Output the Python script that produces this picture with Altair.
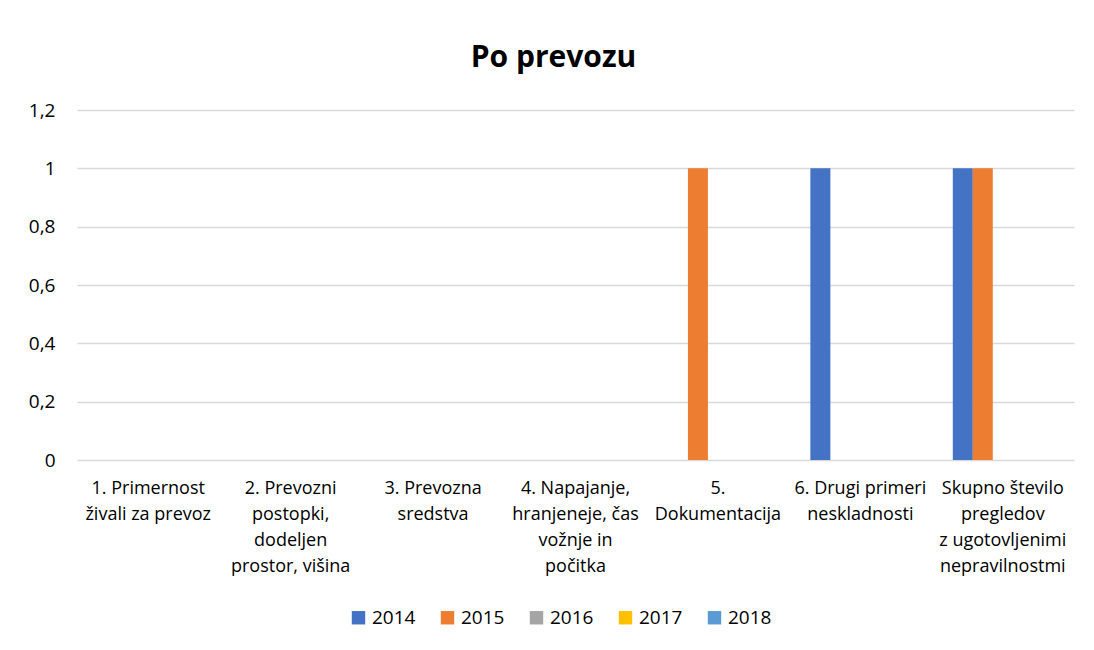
import altair as alt
import pandas as pd

categories = [
    "1. Primernost\nživali za prevoz",
    "2. Prevozni\npostopki,\ndodeljen\nprostor, višina",
    "3. Prevozna\nsredstva",
    "4. Napajanje,\nhranjeneje, čas\nvožnje in\npočitka",
    "5.\nDokumentacija",
    "6. Drugi primeri\nneskladnosti",
    "Skupno število\npregledov\nz ugotovljenimi\nnepravilnostmi",
]
years = ["2014", "2015", "2016", "2017", "2018"]
v2014 = [0, 0, 0, 0, 0, 1, 1]
v2015 = [0, 0, 0, 0, 1, 0, 1]
v2016 = [0, 0, 0, 0, 0, 0, 0]
v2017 = [0, 0, 0, 0, 0, 0, 0]
v2018 = [0, 0, 0, 0, 0, 0, 0]
colors = ["#4472C4", "#ED7D31", "#A5A5A5", "#FFC000", "#5B9BD5"]
y_ticks = [0, 0.2, 0.4, 0.6, 0.8, 1.0, 1.2]

series = [v2014, v2015, v2016, v2017, v2018]
rows = []
for yr, vals in zip(years, series):
    for c, v in zip(categories, vals):
        rows.append({"cat": c, "year": yr, "value": v})
df = pd.DataFrame(rows)

FONT = "Open Sans"

chart = alt.Chart(df).mark_bar().encode(
    x=alt.X(
        "cat:N",
        sort=categories,
        title=None,
        scale=alt.Scale(paddingInner=0.298, paddingOuter=0.149),
        axis=alt.Axis(
            labelAngle=0,
            labelExpr="split(datum.label, '\\n')",
            labelFontSize=18,
            labelFont=FONT,
            labelColor="#000000",
            labelLineHeight=26,
            labelPadding=19,
            labelBaseline="top",
            ticks=False,
            domain=False,
            grid=False,
        ),
    ),
    xOffset=alt.XOffset("year:N", sort=years, scale=alt.Scale(paddingInner=0, paddingOuter=0)),
    y=alt.Y(
        "value:Q",
        title=None,
        scale=alt.Scale(domain=[0, 1.2], nice=False),
        axis=alt.Axis(
            values=y_ticks,
            labelExpr="replace(format(datum.value, '.1~f'), '.', ',')",
            labelFontSize=19,
            labelFont=FONT,
            labelColor="#000000",
            labelPadding=22,
            ticks=False,
            domain=False,
            gridColor="#d9d9d9",
            gridWidth=1.5,
        ),
    ),
    color=alt.Color(
        "year:N",
        sort=years,
        scale=alt.Scale(domain=years, range=colors),
        legend=alt.Legend(
            title=None,
            orient="none",
            direction="horizontal",
            legendX=272,
            legendY=498,
            symbolType="square",
            symbolSize=180,
            symbolStrokeWidth=0,
            labelFontSize=19,
            labelFont=FONT,
            labelColor="#000000",
            columnPadding=22,
            labelOffset=4,
        ),
    ),
).properties(
    width=997,
    height=350,
    title=alt.TitleParams(
        "Po prevozu",
        fontSize=30,
        font=FONT,
        fontWeight="bold",
        color="#000000",
        anchor="middle",
        dx=-22,
        offset=28,
    ),
    padding={"left": 20, "top": 35, "right": 5, "bottom": 5},
).configure(background="#ffffff").configure_view(stroke=None)

chart.save("out.html", embed_options={"renderer": "svg", "actions": False})
